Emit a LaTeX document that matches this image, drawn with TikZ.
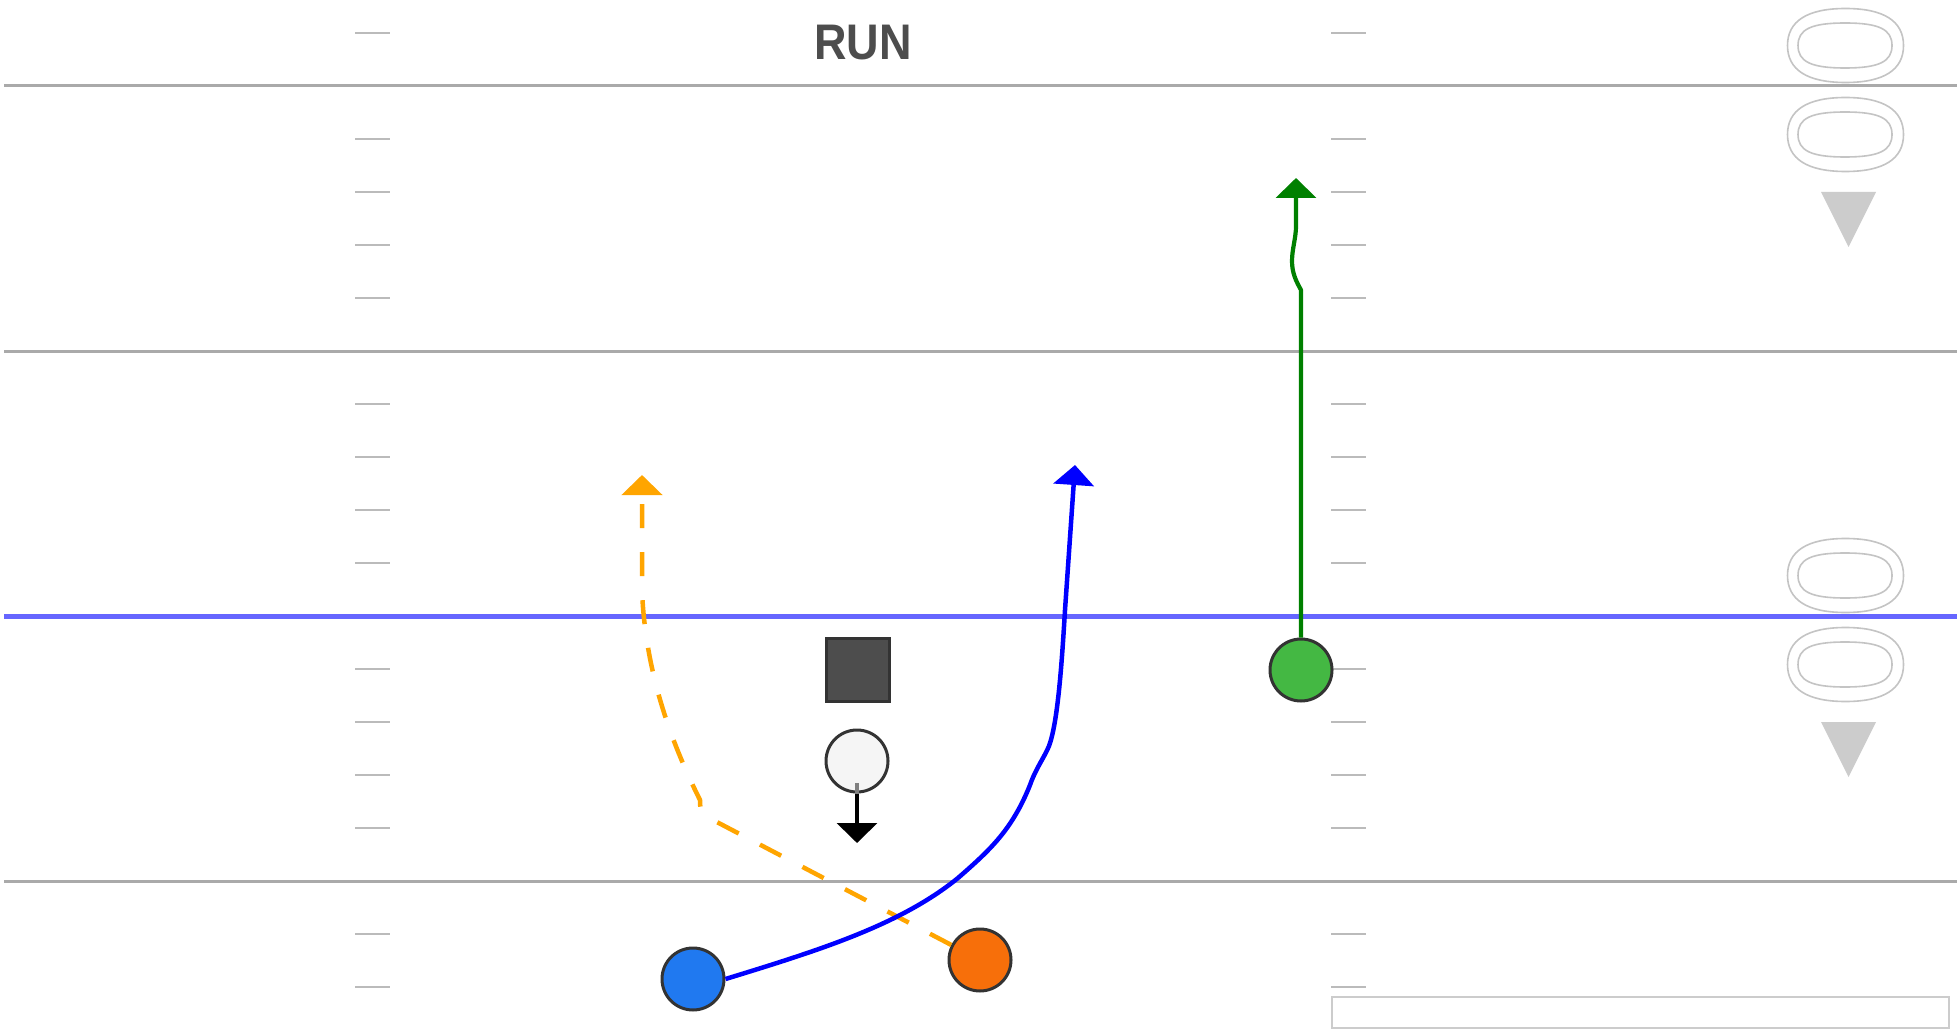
\documentclass[tikz,border=0pt]{standalone}
\usepackage{fontspec}
\setmainfont{Liberation Sans}
\usetikzlibrary{arrows.meta}
\definecolor{fieldline}{HTML}{AAAAAA}
\definecolor{hashc}{HTML}{BBBBBB}
\definecolor{losc}{HTML}{6666FF}
\definecolor{numc}{HTML}{C4C4C4}
\definecolor{tric}{HTML}{CCCCCC}
\definecolor{titlec}{HTML}{4D4D4D}
\definecolor{pblue}{HTML}{2079F0}
\definecolor{porange}{HTML}{F76F0A}
\definecolor{pgreen}{HTML}{44B843}
\definecolor{qbfill}{HTML}{F5F5F5}
\definecolor{cfill}{HTML}{4D4D4D}
\definecolor{pstroke}{HTML}{333333}
\definecolor{routeorange}{HTML}{FFA500}
\definecolor{routegreen}{HTML}{008000}
\definecolor{routeblue}{HTML}{0000FF}
\newcommand\squircle[5]{% cx, cy, a, b, k
  \draw[numline] (#1,#2-#4) .. controls (#1+#5*#3,#2-#4) and (#1+#3,#2-#5*#4) .. (#1+#3,#2)
    .. controls (#1+#3,#2+#5*#4) and (#1+#5*#3,#2+#4) .. (#1,#2+#4)
    .. controls (#1-#5*#3,#2+#4) and (#1-#3,#2+#5*#4) .. (#1-#3,#2)
    .. controls (#1-#3,#2-#5*#4) and (#1-#5*#3,#2-#4) .. cycle;}
\begin{document}
\begin{tikzpicture}[x=1pt,y=-1pt,
  yardline/.style={fieldline,line width=3pt},
  losline/.style={losc,line width=5pt},
  hashmark/.style={hashc,line width=2pt},
  player/.style={circle,draw=pstroke,line width=3pt,minimum size=62pt,inner sep=0pt},
  centerbox/.style={rectangle,draw=pstroke,fill=cfill,line width=3pt,minimum size=63pt,inner sep=0pt},
  route/.style={line width=4.5pt,line join=round,-{Triangle[width=40pt,length=20pt]}},
  numline/.style={draw=numc,line width=1.6pt},
  boxframe/.style={draw=tric,line width=2pt}
]
\useasboundingbox (0,0) rectangle (1959,1032);
\fill[white] (0,0) rectangle (1959,1032);

% yard lines
\draw[yardline] (4,86) -- (1957,86);
\draw[yardline] (4,351) -- (1957,351);
\draw[yardline] (4,881) -- (1957,881);
\draw[losline] (4,616) -- (1957,616);

% hash marks
\foreach \y in {33,139,192,245,298,404,457,510,563,669,722,775,828,934,987}{
  \draw[hashmark] (355,\y) -- (390,\y);
  \draw[hashmark] (1331,\y) -- (1366,\y);
}

% yard numbers (outlined) and direction triangles
\foreach \c in {45.5,134.5,575.5,664.5}{
  \squircle{1845.5}{\c}{58}{37}{0.66}
  \squircle{1845}{\c}{47}{22.5}{0.72}
}
\fill[tric] (1821,192) -- (1876,192) -- (1848.5,247) -- cycle;
\fill[tric] (1821,722) -- (1876,722) -- (1848.5,777) -- cycle;

% bottom right frame
\draw[boxframe] (1332,997) rectangle (1949,1028);

% title
\node[font=\bfseries\fontsize{50}{50}\selectfont,text=titlec,inner sep=0pt] (title) at (863,43) {\scalebox{0.9}[1]{RUN}};

% players
\node[centerbox] (center) at (857.5,669.5) {};
\node[player,fill=qbfill] (qb) at (857,761) {};
\node[player,fill=pblue] (blue) at (693,979) {};
\node[player,fill=porange] (orange) at (980,960) {};
\node[player,fill=pgreen] (green) at (1301,670) {};

% route end points
\coordinate (orangetip) at (642,475);
\coordinate (bluetip) at (1075,465);
\coordinate (greentip) at (1296,178);
\coordinate (qbtip) at (857,843);

% routes
\draw[route,routeorange,dash pattern=on 24pt off 24pt] (orange) -- (713,820)
  .. controls (703,814) and (700,810) .. (700,804) -- (700,800)
  .. controls (670,740) and (645,670) .. (642,590) -- (orangetip);

\draw[route,routeblue] (blue.east) .. controls (820,950) and (900,925) .. (958,878)
  .. controls (990,850) and (1012,830) .. (1030,785)
  .. controls (1036,768) and (1044,758) .. (1049,746)
  .. controls (1058,722) and (1062,660) .. (1065,610) -- (bluetip);

\draw[route,routegreen,line width=4.2pt] (green) -- (1301,290)
  .. controls (1296,281) and (1292,273) .. (1292,261)
  .. controls (1292,249) and (1296,238) .. (1296,226) -- (greentip);

\draw[line width=3.7pt,gray] ([yshift=-22pt]qb.center) -- (qb.south);
\draw[route,black,line width=3.8pt] (qb.south) -- (qbtip);
\end{tikzpicture}
\end{document}
